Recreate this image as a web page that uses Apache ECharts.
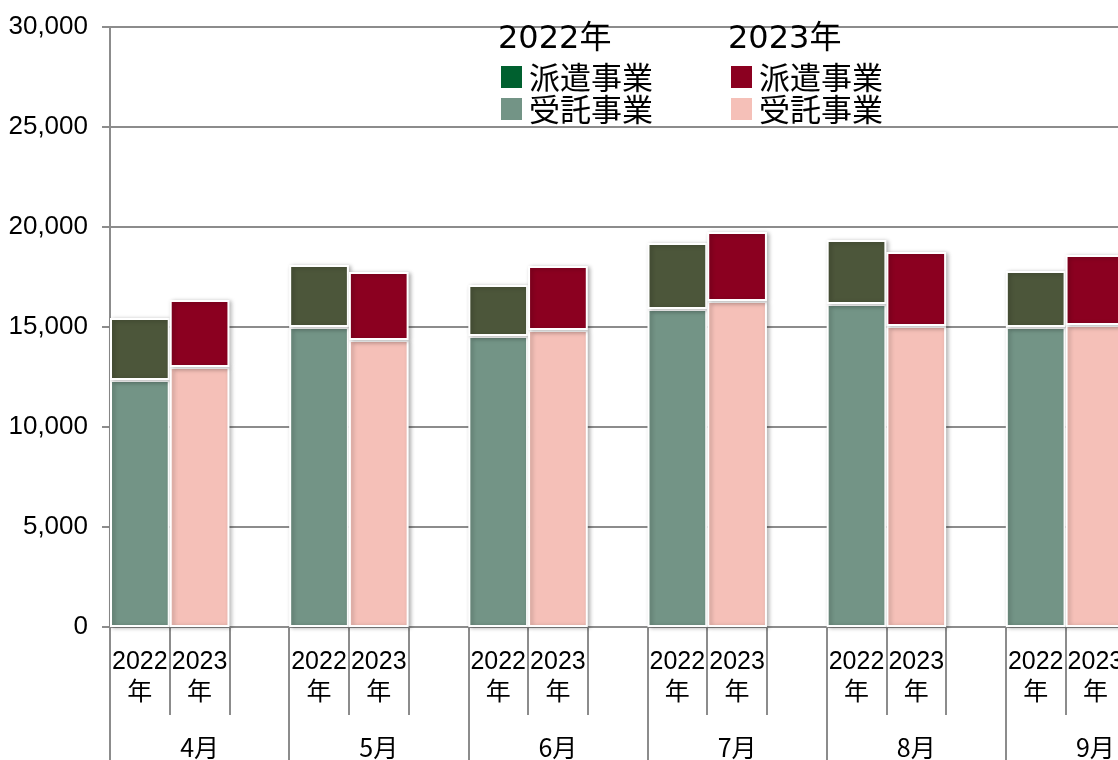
<!DOCTYPE html>
<html>
<head>
<meta charset="utf-8">
<script src="https://cdn.jsdelivr.net/npm/echarts@6/dist/echarts.min.js"></script>
<style>
html,body{margin:0;padding:0;background:#fff;}
#chart{width:1118px;height:760px;}
</style>
</head>
<body>
<div id="chart"></div>
<script>
// ---- data ----
var months = ['4月', '5月', '6月', '7月', '8月', '9月'];
var yearLabels = ['2022\n年', '2023\n年'];
var haken2022 = [3100, 3100, 2550, 3300, 3200, 2800];     // 派遣事業 2022年
var jutaku2022 = [12350, 15000, 14550, 15900, 16150, 15000]; // 受託事業 2022年
var haken2023 = [3350, 3400, 3200, 3450, 3700, 3500];     // 派遣事業 2023年
var jutaku2023 = [13000, 14350, 14850, 16300, 15050, 15100]; // 受託事業 2023年
var yTicks = [0, 5000, 10000, 15000, 20000, 25000, 30000];

// ---- build 18-slot category axis: 2022, 2023, gap per month ----
var cats = [];
months.forEach(function () { cats.push(yearLabels[0], yearLabels[1], ''); });
function slot(arr, pos) {
  var out = [];
  arr.forEach(function (v) {
    for (var k = 0; k < 3; k++) out.push(k === pos ? v : '-');
  });
  return out;
}

var numFont = "'Liberation Sans', 'Noto Sans CJK JP', sans-serif";
var jpFont = "'Noto Sans CJK JP', sans-serif";
var gray = '#8c8c8c';

var barStyle = function (c) {
  return {
    color: c, borderColor: '#ffffff', borderWidth: 2,
    shadowColor: 'rgba(0,0,0,0.28)', shadowBlur: 4, shadowOffsetX: 2, shadowOffsetY: 1
  };
};

var chart = echarts.init(document.getElementById('chart'), null, { renderer: 'canvas' });
chart.setOption({
  animation: false,
  backgroundColor: '#ffffff',
  title: [
    { text: '2022年', left: 498, top: 24, padding: 0,
      textStyle: { fontSize: 32, fontWeight: 'normal', color: '#000', fontFamily: "'DejaVu Sans', 'Noto Sans CJK JP'" } },
    { text: '2023年', left: 728, top: 24, padding: 0,
      textStyle: { fontSize: 32, fontWeight: 'normal', color: '#000', fontFamily: "'DejaVu Sans', 'Noto Sans CJK JP'" } }
  ],
  legend: [
    {
      left: 501, top: 61, orient: 'vertical', padding: 0,
      itemWidth: 21, itemHeight: 22, itemGap: 0, icon: 'rect',
      itemStyle: { borderWidth: 0, shadowBlur: 0, shadowOffsetX: 0, shadowOffsetY: 0 },
      data: [
        { name: '2022年派遣事業', itemStyle: { color: '#00602f' } },
        { name: '2022年受託事業' }
      ],
      formatter: function (n) { return n.replace('2022年', ''); },
      textStyle: { fontSize: 31, lineHeight: 32, color: '#000', fontFamily: jpFont, padding: [0, 0, 0, 2] },
      selectedMode: false
    },
    {
      left: 731, top: 61, orient: 'vertical', padding: 0,
      itemWidth: 21, itemHeight: 22, itemGap: 0, icon: 'rect',
      itemStyle: { borderWidth: 0, shadowBlur: 0, shadowOffsetX: 0, shadowOffsetY: 0 },
      data: [{ name: '2023年派遣事業' }, { name: '2023年受託事業' }],
      formatter: function (n) { return n.replace('2023年', ''); },
      textStyle: { fontSize: 31, lineHeight: 32, color: '#000', fontFamily: jpFont, padding: [0, 0, 0, 2] },
      selectedMode: false
    }
  ],
  grid: { left: 110, top: 27, width: 1075, height: 600, containLabel: false, outerBoundsMode: 'none' },
  xAxis: [
    {
      type: 'category', data: cats, position: 'bottom', boundaryGap: true,
      axisLine: { show: true, lineStyle: { color: gray, width: 2 } },
      axisTick: { show: true, length: 88, interval: 0, lineStyle: { color: gray, width: 2 } },
      axisLabel: { interval: 0, margin: 20, fontSize: 25, lineHeight: 31, color: '#000', fontFamily: numFont }
    },
    {
      type: 'category', data: months, position: 'bottom', boundaryGap: true,
      axisLine: { show: false },
      axisTick: { show: true, length: 140, interval: 0, lineStyle: { color: gray, width: 2 } },
      axisLabel: { interval: 0, margin: 108, fontSize: 25, color: '#000', fontFamily: jpFont }
    }
  ],
  yAxis: {
    type: 'value', min: 0, max: 30000, interval: 5000,
    axisLine: { show: true, lineStyle: { color: gray, width: 2 } },
    axisTick: { show: true, length: 8, lineStyle: { color: gray, width: 2 } },
    splitLine: { show: true, lineStyle: { color: gray, width: 2 } },
    axisLabel: {
      margin: 22, fontSize: 26, color: '#000', fontFamily: numFont,
      formatter: function (v) { return yTicks.indexOf(v) >= 0 ? v.toLocaleString('en-US') : ''; }
    }
  },
  series: [
    { name: '2022年受託事業', type: 'bar', stack: 's', barCategoryGap: '0%', data: slot(jutaku2022, 0), itemStyle: barStyle('#739486') },
    { name: '2022年派遣事業', type: 'bar', stack: 's', data: slot(haken2022, 0), itemStyle: barStyle('#4c563a') },
    { name: '2023年受託事業', type: 'bar', stack: 's', data: slot(jutaku2023, 1), itemStyle: barStyle('#f5c0b8') },
    { name: '2023年派遣事業', type: 'bar', stack: 's', data: slot(haken2023, 1), itemStyle: barStyle('#8b0020') }
  ]
});
</script>
</body>
</html>
